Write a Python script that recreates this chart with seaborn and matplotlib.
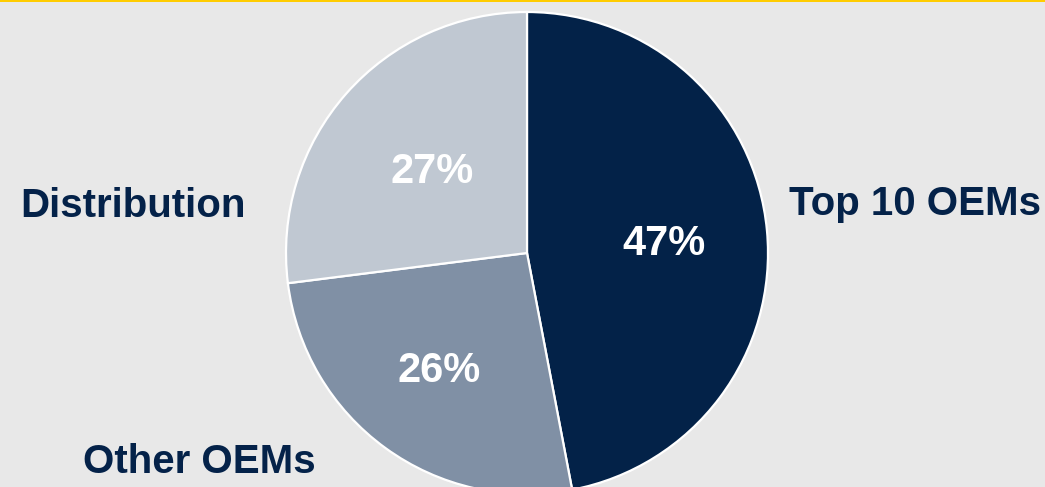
import matplotlib
matplotlib.use("Agg")
import matplotlib.pyplot as plt
import seaborn as sns

# Data
categories = ["Top 10 OEMs", "Other OEMs", "Distribution"]
shares = [47, 26, 27]
pct_labels = ["47%", "26%", "27%"]

sns.set_theme(style="white")
plt.rcParams["font.family"] = ["Liberation Sans", "DejaVu Sans"]

W, H = 1045, 487
bg = "#E8E8E8"
navy = "#042249"
colors = ["#032248", "#8090A5", "#C0C8D2"]

fig = plt.figure(figsize=(W / 100, H / 100), dpi=100, facecolor=bg)
ax = fig.add_axes([0, 0, 1, 1])
ax.set_facecolor(bg)

cx, cy, r = 527, 487 - 253, 241
wedges, _ = ax.pie(shares, colors=colors, startangle=90, counterclock=False,
                   center=(cx, cy), radius=r,
                   wedgeprops=dict(edgecolor="white", linewidth=1.6))
ax.set_xlim(0, W)
ax.set_ylim(0, H)
ax.set_aspect("equal")
ax.axis("off")

# top yellow rule
ax.axhspan(H - 2, H, color="#FFCC00", lw=0)

# percentages inside
pct_pos = [(664, 487 - 255), (439, 487 - 382), (432, 487 - 183)]
for (x, y), t in zip(pct_pos, pct_labels):
    ax.text(x, y, t, ha="center", va="baseline", color="white",
            fontsize=30, fontweight="bold")

# outer labels
lab_pos = [(915, 487 - 215), (199, 487 - 473), (133, 487 - 217)]
for (x, y), t in zip(lab_pos, categories):
    ax.text(x, y, t, ha="center", va="baseline", color=navy,
            fontsize=29, fontweight="bold")

fig.savefig("out.png", dpi=100, facecolor=bg)
